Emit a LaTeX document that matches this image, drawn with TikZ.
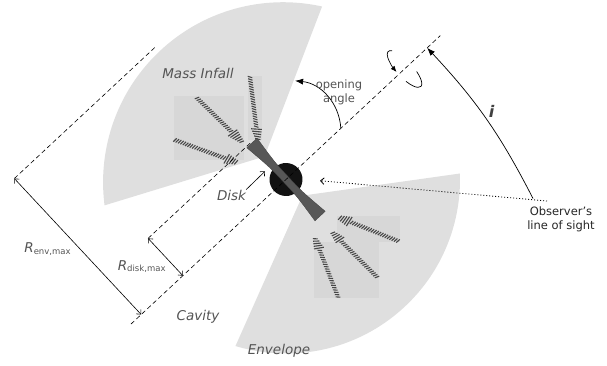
\documentclass[tikz,border=0pt]{standalone}
\usepackage{fontspec}
\setmainfont{DejaVu Sans}
\usetikzlibrary{decorations.markings,arrows.meta,positioning}
\definecolor{shell}{gray}{0.875}
\definecolor{patch}{gray}{0.845}
\definecolor{ink}{gray}{0.33}
\definecolor{diskgray}{gray}{0.34}
\tikzset{
DASHED/.style ={draw=black,line width=0.6pt,dash pattern=on 4.5pt off 3pt},
DOTTED/.style ={draw=black,line width=0.8pt,dash pattern=on 1pt off 2pt},
MEASURE/.style ={draw=black,line width=0.6pt,{Straight Barb[length=3.5pt,width=6.5pt]}-{Straight Barb[length=3.5pt,width=6.5pt]}},
BENT/.style ={draw=black,line width=0.7pt,-{Latex[length=8pt,width=6pt]}},
REGION/.style={draw=none, fill=#1},
REGION/.default = shell,
LABEL/.style={text=ink,inner sep=0pt,font=\fontsize{13.5}{15}\selectfont\itshape},
NOTE/.style={inner sep=0pt,align=center,font=\fontsize{11.5}{14}\selectfont},
INFALL/.style={decoration={markings, mark=between positions 0 and 1 step 2.5pt with {
  \pgfmathsetlengthmacro{\rest}{\pgfdecoratedpathlength-\pgfkeysvalueof{/pgf/decoration/mark info/distance from start}}
  \pgfmathsetlengthmacro{\half}{\rest>13pt ? 2.1pt : 2pt+0.27*\rest}
  \draw[line width=1.1pt,black!72] (-1pt,-\half) -- (1pt,\half);}}, decorate},
}

\begin{document}
\begin{tikzpicture}[x=1pt,y=1pt] %disk, cavity and envelope
	\useasboundingbox (-286,-185.5) rectangle (321,179.5);
	\begin{scope}[rotate=43]
		\coordinate (ctr) at (0,0);
		\coordinate (upapex) at (0,31.5);
		\coordinate (lowapex) at (1,-23);
		\begin{scope}
			\clip (-4,0) circle[radius=180];
			\path[REGION] (upapex) -- +(26:400) -- +(90:400) -- +(154:400) -- cycle;
		\end{scope}
		\begin{scope}
			\clip (0,0) circle[radius=174];
			\path[REGION] (lowapex) -- +(-35:400) -- +(-90:400) -- +(203:400) -- cycle;
		\end{scope}
	\end{scope}
	% infall arrows
	\path[REGION=patch] (-112,19.5) rectangle (-42,83.5);
	\path[REGION=patch] (-38,39.5) rectangle (-24,103.5);
	\path[REGION=patch] (51,-62.5) rectangle (114,-36.5);
	\path[REGION=patch] (28,-118.5) rectangle (93,-62.5);
	\path[INFALL] (-36,102.5) -- (-28,38.5);
	\path[INFALL] (-89,81.5) -- (-44,37.5);
	\path[INFALL] (-111,39.5) -- (-48,16.5);
	\path[INFALL] (112,-61.5) -- (52,-37.5);
	\path[INFALL] (91,-97.5) -- (46,-52.5);
	\path[INFALL] (52,-117.5) -- (29,-58.5);
	\begin{scope}[rotate=43]
		\coordinate (axlow) at (-212,0);
		\coordinate (axhigh) at (211,0);
		\coordinate (envfoot) at (-198,0);
		\coordinate (envedge) at (-198,186);
		\coordinate (envend) at (-6,186);
		\coordinate (diskfoot) at (-141,0);
		\coordinate (diskedge) at (-141,51);
		\coordinate (disktip) at (0,51);
		\coordinate (openfrom) at (75,0);
		\coordinate (opento) at (74,66);
		\coordinate (tilt) at (193,0);
		\path[DASHED] (envedge) -- (envend);
		\path[DASHED] (diskedge) -- (disktip);
		\path[MEASURE] (envfoot) -- (envedge);
		\path[MEASURE] (diskfoot) -- (diskedge);
		\path[fill=black!93] (ctr) circle[radius=16.5];
		\path[fill=diskgray,draw=black!75,line width=0.3pt] (-7,50) -- (7,50) .. controls (3.5,20) .. (3.5,0) .. controls (3.5,-20) .. (7,-50) -- (-7,-50) .. controls (-3.5,-20) .. (-3.5,0) .. controls (-3.5,20) .. (-7,50) -- cycle;
		\path[DASHED] (axlow) -- (axhigh);
		\path[BENT] (openfrom) to[bend right=40] (opento);
		% sense of rotation
		\path[draw=black,line width=0.7pt,-{Latex[length=6pt,width=5pt]}] (165.5,21.7) arc[start angle=65,end angle=172,x radius=8,y radius=24];
		\path[draw=black,line width=0.7pt] (154.7,-10.1) arc[start angle=205,end angle=335,x radius=8,y radius=24];
	\end{scope}
	% observer
	\coordinate (eye) at (261,-21.5);
	\coordinate (seen) at (34,-1.2);
	\coordinate (look) at (247,-19);
	\coordinate (diskpt) at (-21,8.2);
	\path[DOTTED,-{Straight Barb[length=3.5pt,width=6.5pt]}] (eye) -- (seen);
	\path[draw=black,line width=0.7pt,-{Latex[length=8pt,width=6pt]}] (look) to[bend right=8] (tilt);
	% labels
	\node[LABEL] (infall) at (-88,106.5) {Mass Infall};
	\node[NOTE,text=ink] (opening) at (53,87) {opening\\angle};
	\node[LABEL] (disklbl) at (-54.5,-15.5) {Disk};
	\node[LABEL] (renv) at (-238.5,-69.5) {R\raisebox{-1.5pt}{\fontsize{8.5}{10}\selectfont\upshape env,max}};
	\node[LABEL] (rdisk) at (-144.3,-87) {R\raisebox{-1.5pt}{\fontsize{8.5}{10}\selectfont\upshape disk,max}};
	\node[LABEL] (cavity) at (-88,-137.2) {Cavity};
	\node[LABEL] (envelope) at (-7,-171.5) {Envelope};
	\node[text=black!75,font=\fontsize{16}{18}\selectfont\bfseries\itshape] (incl) at (205.5,68.5) {i};
	\node[NOTE,text=black!85] (observer) at (275,-39.5) {Observer's\\line of sight};
	\path[draw=black,line width=0.6pt,-{Straight Barb[length=3.5pt,width=6.5pt]}] (disklbl.north east) -- (diskpt);
\end{tikzpicture}
\end{document}
